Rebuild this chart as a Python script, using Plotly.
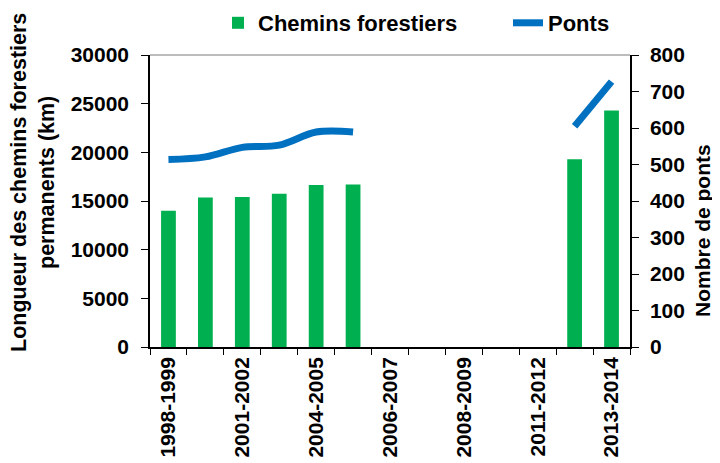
import plotly.graph_objects as go

periods = ["1998-1999", "2000-2001", "2001-2002", "2002-2003", "2004-2005",
           "2005-2006", "2006-2007", "2007-2008", "2008-2009", "2010-2011",
           "2011-2012", "2012-2013", "2013-2014"]
shown_labels = ["1998-1999", "2001-2002", "2004-2005", "2006-2007",
                "2008-2009", "2011-2012", "2013-2014"]
chemins_km = [14000, 15350, 15400, 15750, 16650, 16700,
              None, None, None, None, None, 19300, 24300]
ponts = [514, 521, 547, 553, 589, 589,
         None, None, None, None, None, 605, 727]

FONT = "Liberation Sans, Arial, sans-serif"
fs = 21

# page body has an 8px default margin: screen = figure + 8
OFF = 8
W, H = 712, 455
L, T = 150 - OFF, 55 - OFF
PW, PH = 480, 292
R = W - L - PW
B = H - T - PH

fig = go.Figure()
fig.add_trace(go.Bar(x=periods, y=chemins_km, name="Chemins forestiers",
                     marker=dict(color="#00B050", line=dict(width=0)),
                     yaxis="y", legend="legend"))
fig.add_trace(go.Scatter(x=periods, y=ponts, name="Ponts", mode="lines",
                         line=dict(color="#0070C0", width=7, shape="spline", smoothing=1),
                         connectgaps=False, yaxis="y2", legend="legend2"))

ticktext = [p if p in shown_labels else "" for p in periods]

def px_x(sx):
    return (sx - 150) / PW

def px_y(sy):
    return (347 - sy) / PH

leg_common = dict(orientation="h", xref="container", xanchor="left",
                  y=1 - (23 - OFF) / H, yref="container", yanchor="middle",
                  font=dict(family=FONT, size=22, color="black", weight="bold"),
                  bgcolor="rgba(0,0,0,0)")

fig.update_layout(
    width=W, height=H,
    margin=dict(l=L, r=R, t=T, b=B, autoexpand=False),
    paper_bgcolor="white", plot_bgcolor="white",
    font=dict(family=FONT, size=fs, color="black", weight="bold"),
    bargap=0.6,
    showlegend=True,
    legend=dict(x=(218 - OFF) / W, **leg_common),
    legend2=dict(x=(508 - OFF) / W, **leg_common),
    xaxis=dict(type="category", tickvals=periods, ticktext=ticktext,
               tickangle=-90, tickson="boundaries", ticks="outside", ticklen=6,
               tickcolor="black", showline=True, linecolor="black", linewidth=1.5,
               showgrid=False, zeroline=False, automargin=False,
               tickfont=dict(family=FONT, size=fs, color="black", weight="bold")),
    yaxis=dict(range=[0, 30000], dtick=5000, ticks="outside", ticklen=7,
               tickcolor="black", showline=True, linecolor="black", linewidth=1.5,
               showgrid=False, zeroline=False, tickformat="d", automargin=False,
               ticklabelstandoff=8,
               tickfont=dict(family=FONT, size=fs, color="black", weight="bold")),
    yaxis2=dict(range=[0, 800], dtick=100, overlaying="y", side="right",
                ticks="outside", ticklen=7, tickcolor="black", showline=True,
                linecolor="black", linewidth=1.5, showgrid=False, zeroline=False,
                ticklabelstandoff=7, automargin=False,
                tickfont=dict(family=FONT, size=fs, color="black", weight="bold")),
    shapes=[dict(type="line", xref="paper", yref="paper", x0=0, x1=1, y0=1, y1=1,
                 line=dict(color="#A6A6A6", width=1.5))],
    annotations=[
        dict(text="Longueur des chemins forestiers<br>permanents (km)",
             xref="paper", yref="paper", x=px_x(33), y=px_y(183),
             xanchor="center", yanchor="middle", textangle=-90, showarrow=False,
             font=dict(family=FONT, size=21.5, color="black", weight="bold")),
        dict(text="Nombre de ponts",
             xref="paper", yref="paper", x=px_x(702), y=px_y(231),
             xanchor="center", yanchor="middle", textangle=-90, showarrow=False,
             font=dict(family=FONT, size=21, color="black", weight="bold")),
    ],
)

fig.write_html("out.html")
